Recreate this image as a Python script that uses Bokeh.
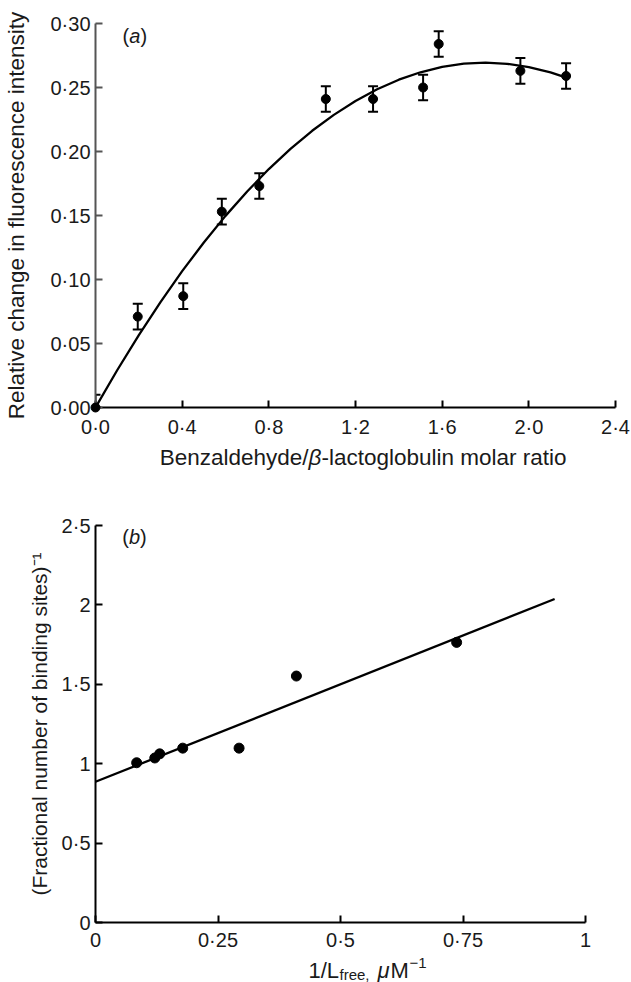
from bokeh.plotting import figure
from bokeh.models import (Range1d, FixedTicker, Whisker, ColumnDataSource, Label,
                          TeeHead, CustomJSTickFormatter)
from bokeh.core.properties import value
from bokeh.layouts import column
from bokeh.embed import file_html
from bokeh.resources import INLINE

FONT = "Liberation Sans"

# ---------------- Panel (a) data ----------------
ratio = [0.0, 0.195, 0.405, 0.583, 0.756, 1.063, 1.281, 1.512, 1.584, 1.961, 2.172]
rel_change = [0.000, 0.071, 0.087, 0.153, 0.173, 0.241, 0.241, 0.250, 0.284, 0.263, 0.259]
rel_err = [0.01, 0.01, 0.01, 0.01, 0.01, 0.01, 0.01, 0.01, 0.01, 0.01, 0.01]

curve_x = [0.0, 0.1, 0.2, 0.3, 0.4, 0.5, 0.6, 0.7, 0.8, 0.9, 1.0, 1.1, 1.2, 1.3,
           1.4, 1.5, 1.6, 1.7, 1.8, 1.9, 2.0, 2.1, 2.18]
curve_y = [0.0, 0.0291, 0.0566, 0.0823, 0.1065, 0.1289, 0.1497, 0.1688, 0.1863,
           0.2021, 0.2162, 0.2286, 0.2395, 0.2486, 0.2561, 0.2619, 0.2661, 0.2686,
           0.2695, 0.2685, 0.2660, 0.2618, 0.2573]

a_xticks = [0.0, 0.4, 0.8, 1.2, 1.6, 2.0, 2.4]
a_yticks = [0.0, 0.05, 0.10, 0.15, 0.20, 0.25, 0.30]

# ---------------- Panel (b) data ----------------
inv_L = [0.084, 0.121, 0.131, 0.178, 0.293, 0.410, 0.737]
inv_frac = [1.006, 1.036, 1.062, 1.098, 1.098, 1.552, 1.764]
fit_x = [0.0, 0.937]
fit_y = [0.886, 2.037]

b_xticks = [0.0, 0.25, 0.5, 0.75, 1.0]
b_yticks = [0.0, 0.5, 1.0, 1.5, 2.0, 2.5]

LEFT, RIGHT = 95, 16   # shared frame borders (figures in a column are aligned)


def style(p, axis_color_y="black", title_size="22px"):
    p.outline_line_color = None
    p.xgrid.visible = False
    p.ygrid.visible = False
    p.background_fill_color = "white"
    p.border_fill_color = "white"
    for ax in (p.xaxis[0], p.yaxis[0]):
        ax.major_tick_in = 7
        ax.major_tick_out = 0
        ax.minor_tick_line_color = None
        ax.major_tick_line_width = 2
        ax.axis_line_width = 2
        ax.major_label_text_font = FONT
        ax.major_label_text_font_size = "20px"
        ax.major_label_text_color = "#1a1a1a"
        ax.axis_label_text_font = FONT
        ax.axis_label_text_font_size = title_size
        ax.axis_label_text_font_style = "normal"
        ax.axis_label_text_color = "#1a1a1a"
    p.yaxis[0].axis_line_color = axis_color_y
    p.yaxis[0].major_tick_line_color = axis_color_y


def strip(h):
    # text strip whose x coordinates are the page's pixel columns
    s = figure(width=631, height=h, output_backend="svg", toolbar_location=None,
               x_range=Range1d(LEFT, 631 - RIGHT), y_range=Range1d(0, h),
               x_axis_location=None, y_axis_location=None,
               min_border_left=LEFT, min_border_right=RIGHT,
               min_border_top=0, min_border_bottom=0)
    s.outline_line_color = None
    s.grid.visible = False
    s.background_fill_color = "white"
    s.border_fill_color = "white"
    return s


def put(s, x, y, txt, size="22.5px", style_="normal", align="left"):
    s.text(x=[x], y=[y], text=[txt], text_font=value(FONT), text_font_style=style_,
           text_font_size=size, text_color="#1a1a1a", text_align=align,
           text_baseline="alphabetic")


# ---------------- Figure (a) ----------------
pa = figure(width=631, height=440, output_backend="svg", toolbar_location=None,
            x_range=Range1d(0, 2.4), y_range=Range1d(0, 0.30),
            min_border_left=LEFT, min_border_right=RIGHT, min_border_top=23,
            min_border_bottom=32)
style(pa, axis_color_y="#555555", title_size="22.5px")
pa.xaxis.ticker = FixedTicker(ticks=a_xticks)
pa.yaxis.ticker = FixedTicker(ticks=a_yticks)
pa.xaxis.formatter = CustomJSTickFormatter(code="return tick.toFixed(1).replace('.', '\u00b7')")
pa.yaxis.formatter = CustomJSTickFormatter(code="return tick.toFixed(2).replace('.', '\u00b7')")
pa.yaxis.axis_label = "Relative change in fluorescence intensity"
pa.yaxis.axis_label_standoff = 18
pa.yaxis.major_label_standoff = 5
pa.xaxis.major_label_standoff = 8

pa.line(curve_x, curve_y, line_color="black", line_width=2.3)

upper = [v + e for v, e in zip(rel_change, rel_err)]
lower = [max(0.0, v - e) for v, e in zip(rel_change, rel_err)]
src_a = ColumnDataSource(dict(x=ratio, y=rel_change, upper=upper, lower=lower))
pa.add_layout(Whisker(source=src_a, base="x", upper="upper", lower="lower",
                      line_color="black", line_width=2,
                      upper_head=TeeHead(size=10, line_width=2, line_color="black"),
                      lower_head=TeeHead(size=10, line_width=2, line_color="black")))
pa.scatter("x", "y", source=src_a, size=9, color="black", level="overlay")

for txt, xs, st in [("(", 0.1246, "normal"), ("a", 0.1555, "italic"), (")", 0.2072, "normal")]:
    pa.add_layout(Label(x=xs, y=0.2906, text=txt, text_font=FONT, text_font_style=st,
                        text_font_size="20px", text_color="#1a1a1a",
                        text_baseline="alphabetic"))

# x title of (a), with italic beta
ta = strip(38)
put(ta, 308, 21, "Benzaldehyde/", align="right")
put(ta, 314.5, 21, "\u03b2", style_="italic", align="center")
put(ta, 321, 21, "-lactoglobulin molar ratio", align="left")

# ---------------- Figure (b) ----------------
pb = figure(width=631, height=475, output_backend="svg", toolbar_location=None,
            x_range=Range1d(0, 520 / 490), y_range=Range1d(0, 2.5),
            min_border_left=LEFT, min_border_right=RIGHT, min_border_top=47,
            min_border_bottom=28)
style(pb, title_size="21px")
pb.xaxis.ticker = FixedTicker(ticks=b_xticks)
pb.yaxis.ticker = FixedTicker(ticks=b_yticks)
pb.xaxis.bounds = (0, 1)
pb.xaxis.formatter = CustomJSTickFormatter(code="return String(tick).replace('.', '\u00b7')")
pb.yaxis.formatter = CustomJSTickFormatter(code="return String(tick).replace('.', '\u00b7')")
pb.yaxis.axis_label = "(Fractional number of binding sites)\u207b\u00b9"
pb.yaxis.axis_label_standoff = 8
pb.yaxis.major_label_standoff = 5
pb.xaxis.major_label_standoff = 6

pb.line(fit_x, fit_y, line_color="black", line_width=2.3)
pb.scatter(inv_L, inv_frac, size=10, color="black")

for txt, xs, st in [("(", 0.0545, "normal"), ("b", 0.0682, "italic"), (")", 0.0908, "normal")]:
    pb.add_layout(Label(x=xs, y=2.427, text=txt, text_font=FONT, text_font_style=st,
                        text_font_size="20px", text_color="#1a1a1a",
                        text_baseline="alphabetic"))

# x title of (b): 1/L_free, uM^-1
tb = strip(29)
put(tb, 308, 12, "1/L", size="22px")
put(tb, 339, 8, "free,", size="15px")
put(tb, 377, 12, "\u03bc", size="22px", style_="italic")
put(tb, 390, 12, "M", size="22px")
put(tb, 409, 20, "\u22121", size="15px")

layout = column(pa, ta, pb, tb, spacing=0)
open("out.html", "w").write(file_html(layout, INLINE))
